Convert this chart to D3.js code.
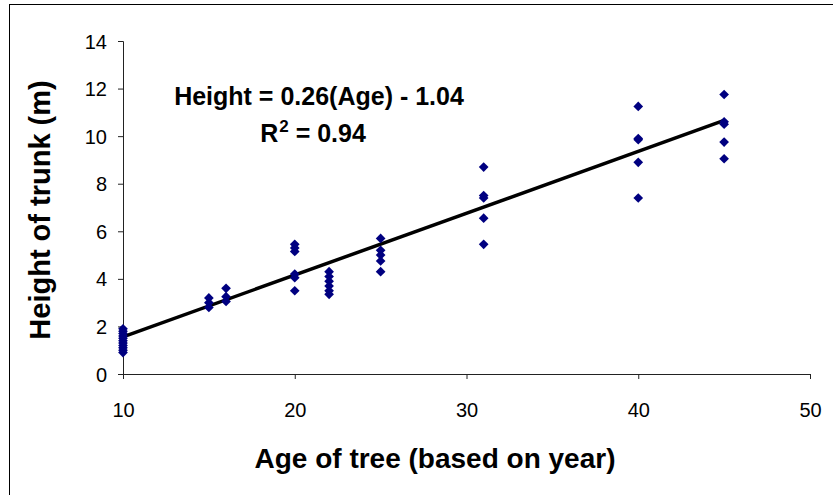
<!DOCTYPE html>
<html>
<head>
<meta charset="utf-8">
<script src="https://cdn.jsdelivr.net/npm/d3@7"></script>
<style>
  body { margin: 0; background: #fff; }
  text { font-family: "Liberation Sans", Arial, sans-serif; }
</style>
</head>
<body>
<div id="chart"></div>
<script>
// tree age (years) and trunk height (m)
const ages = [
  10, 10, 10, 10, 10, 10, 10, 10, 10, 10, 10,
  15, 15, 15,
  16, 16, 16,
  20, 20, 20, 20, 20, 20,
  22, 22, 22, 22, 22, 22,
  25, 25, 25, 25, 25,
  31, 31, 31, 31, 31,
  40, 40, 40, 40, 40,
  45, 45, 45, 45, 45
];
const heights = [
  1.9, 1.8, 1.7, 1.6, 1.5, 1.4, 1.3, 1.2, 1.1, 1.0, 0.9,
  3.2, 3.0, 2.8,
  3.6, 3.25, 3.05,
  5.45, 5.3, 5.15, 4.2, 4.05, 3.5,
  4.3, 4.1, 3.9, 3.7, 3.5, 3.35,
  5.7, 5.2, 5.0, 4.75, 4.3,
  8.7, 7.5, 7.4, 6.55, 5.45,
  11.25, 9.9, 9.85, 8.9, 7.4,
  11.75, 10.6, 10.5, 9.75, 9.05
];
const xTicks = [10, 20, 30, 40, 50];
const yTicks = [0, 2, 4, 6, 8, 10, 12, 14];
const slope = 0.26, intercept = -1.04;
const eqLabel = "Height = 0.26(Age) - 1.04";

const width = 833, height = 495;

const svg = d3.select('#chart').append('svg')
  .attr('width', width)
  .attr('height', height);

// outer chart frame
svg.append('rect')
  .attr('x', 9.5).attr('y', 4.5)
  .attr('width', 900).attr('height', 700)
  .attr('fill', 'none')
  .attr('stroke', '#000')
  .attr('stroke-width', 1);

const x = d3.scaleLinear().domain([10, 50]).range([123, 810]);
const y = d3.scaleLinear().domain([0, 14]).range([374, 41]);

// axes
const xAxis = svg.append('g')
  .attr('transform', `translate(0,${y(0)})`)
  .call(d3.axisBottom(x).tickValues(xTicks).tickSize(5).tickSizeOuter(5).tickPadding(24));
const yAxis = svg.append('g')
  .attr('transform', `translate(${x(10)},0)`)
  .call(d3.axisLeft(y).tickValues(yTicks).tickSize(5).tickSizeOuter(5).tickPadding(11));

[xAxis, yAxis].forEach(a => {
  a.select('.domain').attr('stroke', '#222');
  a.selectAll('.tick line').attr('stroke', '#222');
  a.selectAll('.tick text')
    .attr('fill', '#000')
    .style('font-size', '20px')
    .style('font-family', '"Liberation Sans", Arial, sans-serif');
});
yAxis.selectAll('.tick text').attr('dy', '0.35em');

// trend line over the data range
const lineAges = [d3.min(ages), d3.max(ages)];
svg.append('line')
  .attr('x1', x(lineAges[0])).attr('y1', y(slope * lineAges[0] + intercept))
  .attr('x2', x(lineAges[1])).attr('y2', y(slope * lineAges[1] + intercept))
  .attr('stroke', '#000')
  .attr('stroke-width', 3.5);

// diamond markers
const diamond = d3.symbol().type(d3.symbolDiamond2).size(60);
svg.append('g').selectAll('path')
  .data(ages.map((a, i) => ({age: a, h: heights[i]})))
  .join('path')
  .attr('d', diamond)
  .attr('transform', d => `translate(${x(d.age)},${y(d.h)})`)
  .attr('fill', '#000080');

// equation labels
svg.append('text')
  .attr('x', 319).attr('y', 105)
  .attr('text-anchor', 'middle')
  .style('font-size', '25px').style('font-weight', 'bold')
  .text(eqLabel);

const r2 = svg.append('text')
  .attr('x', 313).attr('y', 142)
  .attr('text-anchor', 'middle')
  .style('font-size', '25px').style('font-weight', 'bold');
r2.append('tspan').text('R');
r2.append('tspan').attr('dy', -10).attr('dx', 1).style('font-size', '17px').text('2');
r2.append('tspan').attr('dy', 10).text(' = 0.94');

// axis titles
svg.append('text')
  .attr('x', 435).attr('y', 468)
  .attr('text-anchor', 'middle')
  .style('font-size', '28px').style('font-weight', 'bold')
  .text('Age of tree (based on year)');

svg.append('text')
  .attr('transform', 'translate(50,210) rotate(-90)')
  .attr('text-anchor', 'middle')
  .style('font-size', '29px').style('font-weight', 'bold')
  .text('Height of trunk (m)');
</script>
</body>
</html>
